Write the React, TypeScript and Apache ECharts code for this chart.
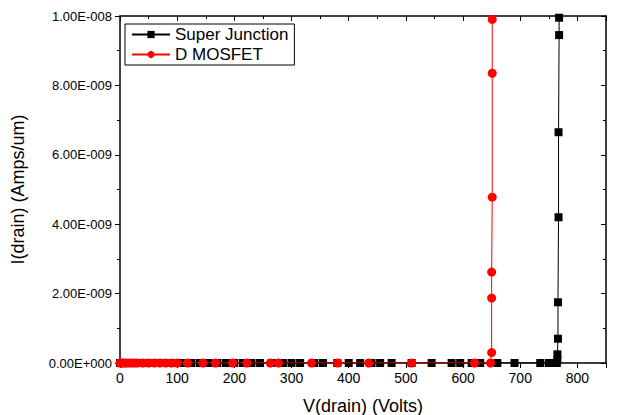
import React, { useEffect, useRef } from "react";
import * as echarts from "echarts";

const sjX = [0, 5, 10, 15, 20, 25, 30, 40, 50, 60, 70, 80, 90, 100, 110, 125, 140, 155, 170, 185, 200, 215, 230, 245, 265, 285, 300, 315, 340, 355, 380, 400, 420, 440, 455, 475, 510, 545, 580, 595, 615, 630, 660, 690, 735, 750, 760, 764, 765, 765, 766, 766, 767, 767, 768];
const sjY = [0, 0, 0, 0, 0, 0, 0, 0, 0, 0, 0, 0, 0, 0, 0, 0, 0, 0, 0, 0, 0, 0, 0, 0, 0, 0, 0, 0, 0, 0, 0, 0, 0, 0, 0, 0, 0, 0, 0, 0, 0, 0, 0, 0, 0, 0, 0, 0, 0.08e-9, 0.25e-9, 0.7e-9, 1.75e-9, 4.2e-9, 6.65e-9, 9.45e-9];
const sjXTop = [768];
const sjYTop = [9.95e-9];

const dmX = [0, 3, 6, 10, 15, 20, 25, 30, 40, 50, 60, 70, 80, 90, 100, 118, 145, 167, 197, 222, 263, 277, 335, 381, 435, 510, 620, 648, 650, 650, 650, 651, 651, 651, 652];
const dmY = [0, 0, 0, 0, 0, 0, 0, 0, 0, 0, 0, 0, 0, 0, 0, 0, 0, 0, 0, 0, 0, 0, 0, 0, 0, 0, 0, 0, 0.3e-9, 1.87e-9, 2.62e-9, 4.78e-9, 8.35e-9, 9.9e-9, 10.5e-9];

const yTickLabels = ["0.00E+000", "2.00E-009", "4.00E-009", "6.00E-009", "8.00E-009", "1.00E-008"];

const FONT = "'Liberation Sans', Arial, sans-serif";

function fmtY(v: number): string {
  const idx = Math.round(v / 2e-9);
  return yTickLabels[idx] ?? "";
}

export default function App() {
  const ref = useRef<HTMLDivElement>(null);
  useEffect(() => {
    const chart = echarts.init(ref.current!, null, { renderer: "svg" });
    const sjData = sjX.map((x, i) => [x, sjY[i]]).concat(sjXTop.map((x, i) => [x, sjYTop[i]]));
    const dmData = dmX.map((x, i) => [x, dmY[i]]);
    chart.setOption({
      animation: false,
      backgroundColor: "#ffffff",
      grid: { left: 120, right: 11, top: 16, bottom: 52, containLabel: false, outerBoundsMode: "none" },
      legend: {
        show: true,
        left: 125,
        top: 24,
        orient: "vertical",
        backgroundColor: "#ffffff",
        borderColor: "#000",
        borderWidth: 1,
        borderRadius: 0,
        padding: [2, 6, 2, 6],
        itemGap: 3,
        itemWidth: 38,
        itemHeight: 9,
        textStyle: { fontFamily: FONT, fontSize: 17, color: "#000" },
        data: ["Super Junction", "D MOSFET"],
      },
      xAxis: [
        {
          type: "value",
          min: 0,
          max: 850,
          interval: 100,
          name: "V(drain) (Volts)",
          nameLocation: "middle",
          nameGap: 34,
          nameTextStyle: { fontFamily: FONT, fontSize: 18, color: "#000" },
          axisLine: { show: true, onZero: false, lineStyle: { color: "#000", width: 1.5 } },
          axisTick: { show: true, inside: false, length: 5, lineStyle: { color: "#000" } },
          minorTick: { show: true, splitNumber: 2, length: 3, lineStyle: { color: "#000" } },
          axisLabel: { fontFamily: FONT, fontSize: 14, color: "#000", margin: 8, showMaxLabel: false },
          splitLine: { show: false },
        },
        {
          type: "value",
          position: "top",
          min: 0,
          max: 850,
          interval: 100,
          axisLine: { show: true, onZero: false, lineStyle: { color: "#000", width: 1.5 } },
          axisTick: { show: true, inside: true, length: 5, lineStyle: { color: "#000" } },
          minorTick: { show: true, splitNumber: 2, length: 3, lineStyle: { color: "#000" } },
          axisLabel: { show: false },
          splitLine: { show: false },
        },
      ],
      yAxis: [
        {
          type: "value",
          min: 0,
          max: 1e-8,
          interval: 2e-9,
          name: "I(drain) (Amps/um)",
          nameLocation: "middle",
          nameGap: 93,
          nameTextStyle: { fontFamily: FONT, fontSize: 18, color: "#000" },
          axisLine: { show: true, onZero: false, lineStyle: { color: "#000", width: 1.5 } },
          axisTick: { show: true, inside: false, length: 5, lineStyle: { color: "#000" } },
          minorTick: { show: true, splitNumber: 2, length: 3, lineStyle: { color: "#000" } },
          axisLabel: { fontFamily: FONT, fontSize: 13, color: "#000", margin: 8, formatter: fmtY },
          splitLine: { show: false },
        },
        {
          type: "value",
          position: "right",
          min: 0,
          max: 1e-8,
          interval: 2e-9,
          axisLine: { show: true, onZero: false, lineStyle: { color: "#000", width: 1.5 } },
          axisTick: { show: true, inside: true, length: 5, lineStyle: { color: "#000" } },
          minorTick: { show: true, splitNumber: 2, length: 3, lineStyle: { color: "#000" } },
          axisLabel: { show: false },
          splitLine: { show: false },
        },
      ],
      series: [
        {
          name: "Super Junction",
          type: "line",
          data: sjData,
          symbol: "rect",
          symbolSize: 8,
          clip: true,
          lineStyle: { color: "#000", width: 1 },
          itemStyle: { color: "#000" },
          z: 2,
        },
        {
          name: "D MOSFET",
          type: "line",
          data: dmData,
          symbol: "circle",
          symbolSize: 9,
          clip: true,
          lineStyle: { color: "#ff0000", width: 1 },
          itemStyle: { color: "#ff0000" },
          z: 3,
        },
      ],
    });
    return () => chart.dispose();
  }, []);
  return <div ref={ref} style={{ width: 617, height: 415, position: "absolute", left: 0, top: 0 }} />;
}
